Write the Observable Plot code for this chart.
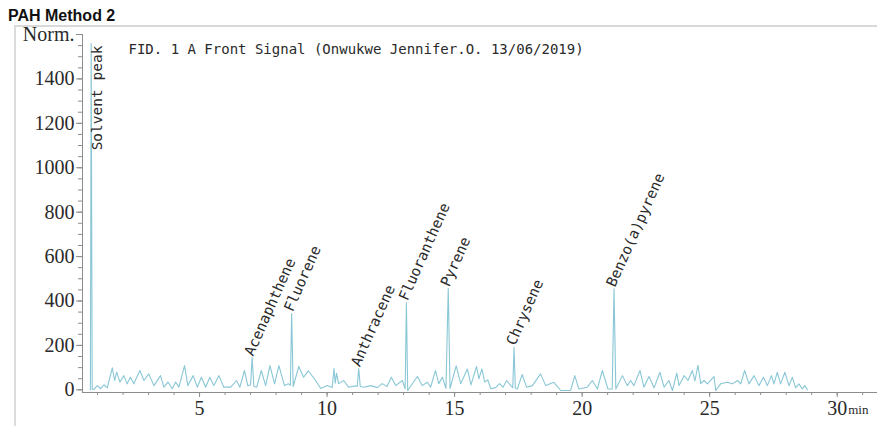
<!DOCTYPE html>
<html>
<head>
<meta charset="utf-8">
<script src="https://cdn.jsdelivr.net/npm/d3@7"></script>
<script src="https://cdn.jsdelivr.net/npm/@observablehq/plot@0.6"></script>
<style>
  body { margin: 0; background: #fff; }
  #wrap { position: relative; width: 877px; height: 426px; overflow: hidden; }
  #title { height: 24px; box-sizing: border-box; padding: 8px 0 0 8px; font: bold 16px/16px "Liberation Sans", Arial, sans-serif; color: #111; }
  #frame { position: absolute; left: 14px; top: 25px; right: -4px; bottom: -4px; border-top: 2px solid #d9d9d9; border-left: 2px solid #dcdcdc; pointer-events: none; }
  #chart svg { display: block; }
</style>
</head>
<body>
<div id="wrap">
  <div id="frame"></div>
  <div id="title">PAH Method 2</div>
  <div id="chart"></div>
</div>
<script>
// ---- data (retention time in min, detector signal in Norm.) ----
const signalTimes = [
  0.72, 0.75, 0.79, 0.86, 0.99, 1.12, 1.25, 1.38, 1.58, 1.67, 1.75, 1.88, 2.03, 2.16, 2.29, 2.42, 2.66, 2.82, 3.01, 3.21,
  3.47, 3.60, 3.76, 3.93, 4.06, 4.19, 4.41, 4.54, 4.75, 4.91, 5.07, 5.24, 5.40, 5.56, 5.76, 5.95, 6.22, 6.45, 6.58, 6.76,
  6.89, 7.00, 7.06, 7.13, 7.24, 7.42, 7.59, 7.76, 7.94, 8.11, 8.33, 8.49, 8.56, 8.61, 8.67, 8.89, 9.08, 9.27, 9.55, 9.75,
  10.01, 10.20, 10.27, 10.32, 10.37, 10.45, 10.65, 10.84, 11.10, 11.18, 11.24, 11.30, 11.43, 11.71, 11.97, 12.16, 12.35, 12.52, 12.69, 12.95,
  13.06, 13.11, 13.16, 13.54, 13.73, 13.93, 14.06, 14.25, 14.38, 14.52, 14.66, 14.75, 14.82, 15.06, 15.24, 15.50, 15.64, 15.86, 15.95, 16.07,
  16.18, 16.30, 16.42, 16.60, 16.76, 16.90, 17.04, 17.20, 17.28, 17.33, 17.38, 17.46, 17.65, 17.82, 18.05, 18.37, 18.57, 18.89, 19.16, 19.55,
  19.71, 19.87, 20.20, 20.40, 20.60, 20.79, 21.01, 21.18, 21.25, 21.32, 21.58, 21.77, 21.90, 22.03, 22.27, 22.42, 22.62, 22.82, 23.05, 23.21,
  23.40, 23.54, 23.71, 23.80, 24.00, 24.15, 24.32, 24.42, 24.54, 24.65, 24.78, 24.91, 25.17, 25.24, 25.43, 25.69, 25.89, 26.09, 26.22, 26.37,
  26.54, 26.74, 26.93, 27.11, 27.26, 27.42, 27.52, 27.65, 27.78, 27.95, 28.11, 28.24, 28.37, 28.50, 28.63, 28.73, 28.83
];
const signalValues = [
  0, 1559, 3, 2, 19, 5, 23, 9, 99, 42, 80, 35, 64, 27, 57, 27, 87, 42, 72, 19,
  64, 12, 35, 5, 35, 12, 109, 19, 64, 12, 57, 12, 57, 19, 64, 12, 12, 42, 12, 87,
  19, 22, 145, 15, 12, 87, 19, 109, 27, 109, 19, 27, 20, 344, 15, 105, 57, 85, 42, 6,
  19, 10, 96, 30, 75, 28, 42, 12, 18, 15, 96, 15, 12, 19, 10, 28, 15, 57, 19, 42,
  5, 393, -3, 60, 19, 34, 12, 87, 28, 57, 6, 456, 6, 108, 28, 94, 22, 105, 50, 94,
  35, 45, 5, 10, 28, 12, 42, 19, 10, 192, 8, 4, 69, 12, 19, 72, 19, 34, -3, -3,
  64, 4, 12, 42, 4, 87, 4, 4, 455, 4, 64, 19, 42, 19, 87, 12, 60, 9, 79, 12,
  42, -3, 75, 19, 64, 42, 87, 40, 110, 28, 42, 27, 60, -3, 27, 34, 27, 42, 27, 87,
  27, 64, 19, 57, 19, 64, 27, 79, 27, 79, 19, 57, 9, 27, 4, 19, 0
];

const solventName = "Solvent peak";
const solventTime = 0.75;
const solventHeight = 1559;

const peakNames   = ["Acenaphthene", "Fluorene", "Anthracene", "Fluoranthene", "Pyrene", "Chrysene", "Benzo(a)pyrene"];
const peakTimes   = [7.06, 8.61, 11.24, 13.11, 14.75, 17.33, 21.25];
const peakHeights = [145, 344, 96, 393, 456, 192, 455];

const yMajorTicks = [0, 200, 400, 600, 800, 1000, 1200, 1400, 1600];
const yMajorLabels = ["0", "200", "400", "600", "800", "1000", "1200", "1400", "Norm."];
const yMinorTicks = d3.range(0, 1601, 50);
const xMajorTicks = [5, 10, 15, 20, 25, 30];
const xMinorTicks = d3.range(1, 32, 1);
const xUnit = "min";
const headerText = "FID. 1 A Front Signal (Onwukwe Jennifer.O. 13/06/2019)";

// ---- build tables ----
const signal = signalTimes.map((t, i) => ({t, v: signalValues[i]}));
const peaks = peakNames.map((name, i) => ({name, t: peakTimes[i], v: peakHeights[i]}));

const axisGray = "#8c8c8c";
const textColor = "#2a2a2a";
const lineColor = "#8ac7d6";
const mono = '"DejaVu Sans Mono", monospace';

const chart = Plot.plot({
  width: 877,
  height: 402,
  marginLeft: 82,
  marginRight: 0,
  marginTop: 10,
  marginBottom: 34,
  style: {fontFamily: '"Liberation Serif", "Times New Roman", serif', fontSize: "20px", color: textColor, background: "transparent", overflow: "visible"},
  x: {domain: [0.41, 31.58], label: null},
  y: {domain: [-12, 1600], label: null},
  marks: [
    Plot.frame({anchor: "left", stroke: axisGray}),
    Plot.frame({anchor: "bottom", stroke: axisGray}),
    Plot.axisY({ticks: yMinorTicks, tickSize: 4, tickFormat: () => "", stroke: axisGray, label: null}),
    Plot.axisY({ticks: yMajorTicks, tickSize: 6, tickPadding: 2, stroke: axisGray, fill: textColor, label: null,
      tickFormat: d => yMajorLabels[yMajorTicks.indexOf(d)]}),
    Plot.axisX({ticks: xMinorTicks, tickSize: 3, tickFormat: () => "", stroke: axisGray, label: null}),
    Plot.axisX({ticks: xMajorTicks, tickSize: 5, tickPadding: 3, stroke: axisGray, fill: textColor, label: null,
      tickFormat: d => String(d)}),
    Plot.text([xMajorTicks[xMajorTicks.length - 1]], {x: d => d, frameAnchor: "bottom", text: () => xUnit,
      textAnchor: "start", lineAnchor: "bottom", dx: 11, dy: 21, fontSize: 13, fill: textColor}),
    Plot.line(signal, {x: "t", y: "v", stroke: lineColor, strokeWidth: 1.1}),
    Plot.text([headerText], {frameAnchor: "top-left", text: d => d, dx: 46, dy: 15, textAnchor: "start",
      lineAnchor: "middle", fontFamily: mono, fontSize: 14, fill: textColor}),
    Plot.text([solventName], {x: () => solventTime, y: () => solventHeight, text: d => d, rotate: -90,
      textAnchor: "end", lineAnchor: "top", dx: 1, dy: 2, fontFamily: mono, fontSize: 14.5, fill: textColor}),
    Plot.text(peaks, {x: "t", y: "v", text: "name", rotate: -66, textAnchor: "start", lineAnchor: "bottom",
      dx: 1, dy: -1, fontFamily: mono, fontSize: 14.5, fill: textColor})
  ]
});
document.getElementById("chart").appendChild(chart);
</script>
</body>
</html>
